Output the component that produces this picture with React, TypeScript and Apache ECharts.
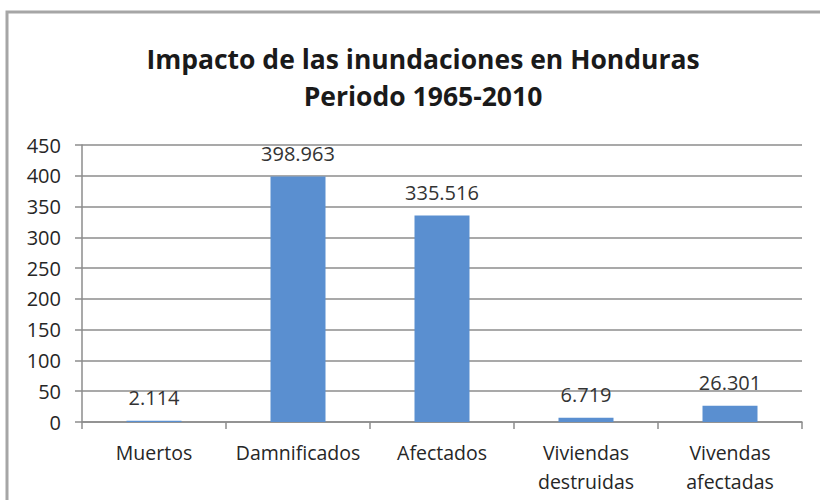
import React, { useEffect, useRef } from "react";
import * as echarts from "echarts";

const titleLines = ["Impacto de las inundaciones en Honduras", "Periodo 1965-2010"];
const categories = ["Muertos", "Damnificados", "Afectados", "Viviendas\ndestruidas", "Vivendas\nafectadas"];
const values = [2.114, 398.963, 335.516, 6.719, 26.301];
const yMin = 0;
const yMax = 450;
const yInterval = 50;

const FONT = "'Open Sans', sans-serif";

export default function App() {
  const ref = useRef<HTMLDivElement>(null);
  useEffect(() => {
    if (!ref.current) return;
    const chart = echarts.init(ref.current, undefined, { renderer: "svg" });
    chart.setOption({
      animation: false,
      backgroundColor: "#ffffff",
      title: {
        text: titleLines.join("\n"),
        left: 418,
        textAlign: "center",
        top: 35,
        textStyle: {
          fontFamily: FONT,
          fontSize: 26.5,
          fontWeight: "bold",
          color: "#1a1a1a",
          lineHeight: 37,
        },
      },
      graphic: [
        {
          type: "rect",
          shape: { x: 7, y: 12, width: 840, height: 520 },
          style: { fill: "none", stroke: "#a6a6a6", lineWidth: 3 },
          silent: true,
        },
      ],
      grid: { left: 82, right: 18, top: 145, bottom: 78 },
      xAxis: {
        type: "category",
        data: categories,
        axisLine: { show: true, lineStyle: { color: "#8c8c8c", width: 1.5 } },
        axisTick: { show: true, length: 7, lineStyle: { color: "#8c8c8c", width: 1.5 } },
        axisLabel: {
          fontFamily: FONT,
          fontSize: 19.5,
          color: "#262626",
          margin: 16,
          lineHeight: 29,
          interval: 0,
        },
      },
      yAxis: {
        type: "value",
        min: yMin,
        max: yMax,
        interval: yInterval,
        axisLine: { show: true, lineStyle: { color: "#8c8c8c", width: 1.5 } },
        axisTick: { show: true, length: 7, lineStyle: { color: "#8c8c8c", width: 1.5 } },
        splitLine: { show: true, lineStyle: { color: "#8c8c8c", width: 1.5 } },
        axisLabel: {
          fontFamily: FONT,
          fontSize: 20,
          color: "#262626",
          margin: 21,
        },
      },
      series: [
        {
          type: "bar",
          data: values,
          barWidth: 55,
          itemStyle: { color: "#5a8fd0" },
          label: {
            show: true,
            position: "top",
            distance: 13,
            fontFamily: FONT,
            fontSize: 20,
            color: "#333333",
            formatter: (p: any) => Number(p.value).toFixed(3),
          },
        },
      ],
    });
    return () => chart.dispose();
  }, []);
  return (
    <div
      ref={ref}
      style={{ position: "absolute", left: 0, top: 0, width: 820, height: 500 }}
    />
  );
}
